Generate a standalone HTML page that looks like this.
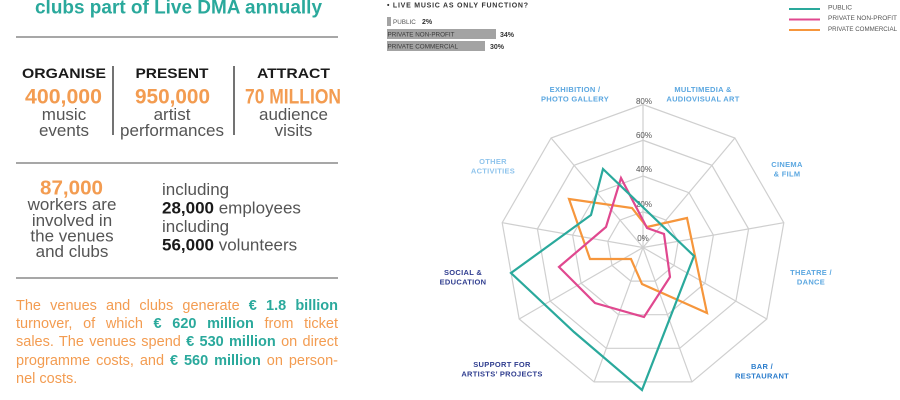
<!DOCTYPE html>
<html>
<head>
<meta charset="utf-8">
<style>
  html,body{margin:0;padding:0;background:#fff;}
  body{width:900px;height:400px;overflow:hidden;position:relative;font-family:"Liberation Sans",sans-serif;}
  svg{position:absolute;left:0;top:0;}
  .para{position:absolute;left:16px;width:322px;font-size:14.5px;line-height:18.4px;color:#f39c51;}
  .para div{text-align:justify;text-align-last:justify;height:18.4px;}
  .para div.last{text-align-last:left;}
  .para b{color:#2aa99c;}
</style>
</head>
<body>
<svg width="900" height="400" viewBox="0 0 900 400" font-family="Liberation Sans, sans-serif">
  <!-- LEFT PANEL -->
  <text x="35" y="13.5" font-size="19" font-weight="bold" fill="#2aa99c" textLength="287" lengthAdjust="spacingAndGlyphs">clubs part of Live DMA annually</text>
  <line x1="16" y1="37" x2="338" y2="37" stroke="#8a8a8a" stroke-width="1.5"/>

  <text x="64" y="78" font-size="14" font-weight="bold" fill="#1a1a1a" text-anchor="middle" textLength="84" lengthAdjust="spacingAndGlyphs">ORGANISE</text>
  <text x="172" y="78" font-size="14" font-weight="bold" fill="#1a1a1a" text-anchor="middle" textLength="73" lengthAdjust="spacingAndGlyphs">PRESENT</text>
  <text x="293.5" y="78" font-size="14" font-weight="bold" fill="#1a1a1a" text-anchor="middle" textLength="73" lengthAdjust="spacingAndGlyphs">ATTRACT</text>

  <text x="63.5" y="103.3" font-size="21" font-weight="bold" fill="#f39c51" text-anchor="middle" textLength="77" lengthAdjust="spacingAndGlyphs">400,000</text>
  <text x="172.5" y="103.3" font-size="21" font-weight="bold" fill="#f39c51" text-anchor="middle" textLength="75" lengthAdjust="spacingAndGlyphs">950,000</text>
  <text x="293" y="103.3" font-size="21" font-weight="bold" fill="#f39c51" text-anchor="middle" textLength="96" lengthAdjust="spacingAndGlyphs">70 MILLION</text>

  <g font-size="17" fill="#555" text-anchor="middle">
    <text x="64" y="120">music</text>
    <text x="64" y="136">events</text>
    <text x="172" y="120">artist</text>
    <text x="172" y="136">performances</text>
    <text x="293.5" y="120">audience</text>
    <text x="293.5" y="136">visits</text>
  </g>
  <line x1="113" y1="66" x2="113" y2="135" stroke="#444" stroke-width="1.5"/>
  <line x1="234" y1="66" x2="234" y2="135" stroke="#444" stroke-width="1.5"/>

  <line x1="16" y1="163" x2="338" y2="163" stroke="#8a8a8a" stroke-width="1.5"/>

  <text x="71.5" y="194.3" font-size="20" font-weight="bold" fill="#f39c51" text-anchor="middle" textLength="63" lengthAdjust="spacingAndGlyphs">87,000</text>
  <g font-size="17" fill="#555" text-anchor="middle">
    <text x="72" y="210">workers are</text>
    <text x="72" y="226">involved in</text>
    <text x="72" y="241.5">the venues</text>
    <text x="72" y="257">and clubs</text>
  </g>
  <g font-size="17" fill="#555">
    <text x="162" y="195">including</text>
    <text x="162" y="213.5"><tspan font-weight="bold" fill="#1a1a1a">28,000</tspan> employees</text>
    <text x="162" y="232">including</text>
    <text x="162" y="250.5"><tspan font-weight="bold" fill="#1a1a1a">56,000</tspan> volunteers</text>
  </g>

  <line x1="16" y1="278" x2="338" y2="278" stroke="#8a8a8a" stroke-width="1.5"/>

  <!-- TOP BAR CHART -->
  <text x="387" y="7.5" font-size="7" font-weight="bold" fill="#333" textLength="141" lengthAdjust="spacing">• LIVE MUSIC AS ONLY FUNCTION?</text>
  <rect x="387" y="17" width="4" height="9" fill="#a3a3a3"/>
  <text x="393" y="24" font-size="6.3" fill="#555">PUBLIC</text>
  <text x="422" y="24" font-size="7" font-weight="bold" fill="#333">2%</text>
  <rect x="387" y="29" width="109" height="10" fill="#a3a3a3"/>
  <text x="387.5" y="36.5" font-size="6.3" fill="#3a3a3a">PRIVATE NON-PROFIT</text>
  <text x="500" y="37" font-size="7" font-weight="bold" fill="#333">34%</text>
  <rect x="387" y="41" width="98" height="10" fill="#a3a3a3"/>
  <text x="387.5" y="48.5" font-size="6.3" fill="#3a3a3a">PRIVATE COMMERCIAL</text>
  <text x="490" y="49" font-size="7" font-weight="bold" fill="#333">30%</text>

  <!-- LEGEND -->
  <line x1="789" y1="9" x2="820" y2="9" stroke="#2aa99c" stroke-width="2"/>
  <line x1="789" y1="19.5" x2="820" y2="19.5" stroke="#e0488f" stroke-width="2"/>
  <line x1="789" y1="30" x2="820" y2="30" stroke="#f6963c" stroke-width="2"/>
  <g font-size="6.5" fill="#555">
    <text x="828" y="9.5" textLength="24" lengthAdjust="spacingAndGlyphs">PUBLIC</text>
    <text x="828" y="20" textLength="69" lengthAdjust="spacingAndGlyphs">PRIVATE NON-PROFIT</text>
    <text x="828" y="31" textLength="69" lengthAdjust="spacingAndGlyphs">PRIVATE COMMERCIAL</text>
  </g>

  <!-- RADAR WEB -->
  <g fill="none" stroke="#cfcfcf" stroke-width="1.2">
    <polygon points="643,104.5 734.9,138 783.8,222.7 766.8,319 691.9,381.9 594.1,381.9 519.2,319 502.2,222.7 551.1,138"/>
    <polygon points="643,140.25 711.9,165.3 748.6,228.9 735.9,301.1 679.7,348.3 606.3,348.3 550.1,301.1 537.4,228.9 574.1,165.3"/>
    <polygon points="643,176 689,192.7 713.4,235.1 704.9,283.25 667.5,314.7 618.5,314.7 581.1,283.25 572.6,235.1 597,192.7"/>
    <polygon points="643,211.75 666,220.1 678.2,241.3 674,265.4 655.2,281.1 630.8,281.1 612,265.4 607.8,241.3 620,220.1"/>
    <line x1="643" y1="247.5" x2="643" y2="104.5"/>
    <line x1="643" y1="247.5" x2="734.9" y2="138"/>
    <line x1="643" y1="247.5" x2="783.8" y2="222.7"/>
    <line x1="643" y1="247.5" x2="766.8" y2="319"/>
    <line x1="643" y1="247.5" x2="691.9" y2="381.9"/>
    <line x1="643" y1="247.5" x2="594.1" y2="381.9"/>
    <line x1="643" y1="247.5" x2="519.2" y2="319"/>
    <line x1="643" y1="247.5" x2="502.2" y2="222.7"/>
    <line x1="643" y1="247.5" x2="551.1" y2="138"/>
  </g>

  <!-- percent labels -->
  <g font-size="8" fill="#555" text-anchor="middle">
    <text x="644" y="104">80%</text>
    <text x="644" y="138">60%</text>
    <text x="644" y="172">40%</text>
    <text x="644" y="207">20%</text>
    <text x="643" y="241">0%</text>
  </g>

  <!-- axis labels -->
  <g font-size="7.5" font-weight="bold" text-anchor="middle" letter-spacing="0.3">
    <g fill="#8fc4ec">
      <text x="493" y="164">OTHER</text>
      <text x="493" y="173.5">ACTIVITIES</text>
    </g>
    <g fill="#5ba7e0">
      <text x="575" y="92">EXHIBITION /</text>
      <text x="575" y="101.5">PHOTO GALLERY</text>
      <text x="703" y="92">MULTIMEDIA &amp;</text>
      <text x="703" y="101.5">AUDIOVISUAL ART</text>
      <text x="787" y="167">CINEMA</text>
      <text x="787" y="176.5">&amp; FILM</text>
      <text x="811" y="275">THEATRE /</text>
      <text x="811" y="284.5">DANCE</text>
    </g>
    <g fill="#2a7ccc">
      <text x="762" y="369">BAR /</text>
      <text x="762" y="378.5">RESTAURANT</text>
    </g>
    <g fill="#2f3d8f">
      <text x="502" y="367">SUPPORT FOR</text>
      <text x="502" y="376.5">ARTISTS’ PROJECTS</text>
      <text x="463" y="275">SOCIAL &amp;</text>
      <text x="463" y="284.5">EDUCATION</text>
    </g>
  </g>

  <!-- series -->
  <g fill="none" stroke-width="2.2" stroke-linejoin="miter">
    <polygon stroke="#f6963c" points="569,199 632,208 647,227 687,218 707,313 642,284 631,259 590,259"/>
    <polygon stroke="#e0488f" points="621,178 647,228 664,234 670,277 644,317 595,303 559,267 606,227"/>
    <polygon stroke="#2aa99c" points="603,169 694,256 642,390 574,332 511,273 591,215"/>
  </g>
</svg>

<div class="para" style="top:296.5px;">
  <div>The venues and clubs generate <b>€ 1.8 billion</b></div>
  <div>turnover, of which <b>€ 620 million</b> from ticket</div>
  <div>sales. The venues spend <b>€ 530 million</b> on direct</div>
  <div>programme costs, and <b>€ 560 million</b> on person-</div>
  <div class="last">nel costs.</div>
</div>
</body>
</html>
